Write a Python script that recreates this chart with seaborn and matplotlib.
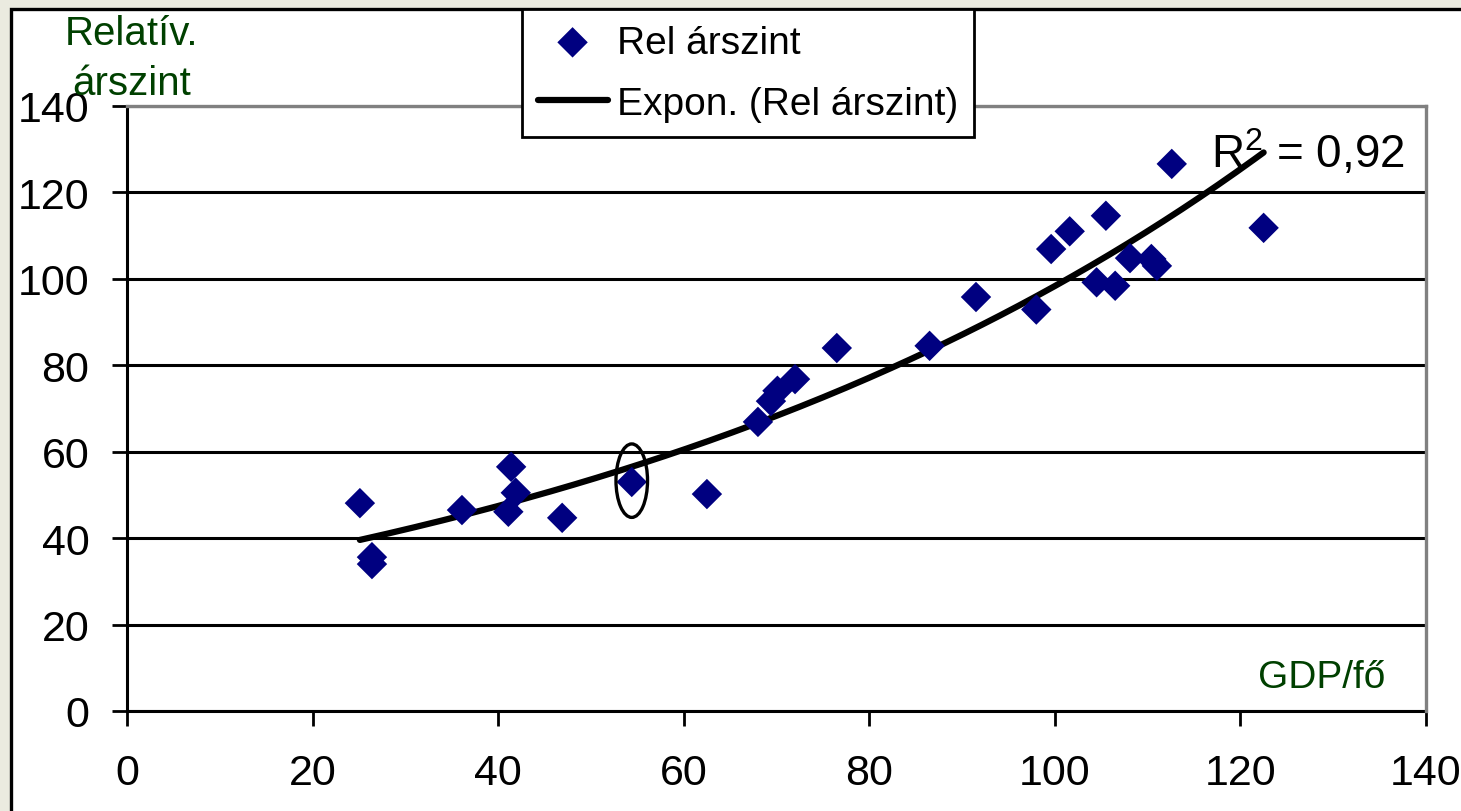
import matplotlib
matplotlib.use('Agg')
import matplotlib.pyplot as plt
from matplotlib.patches import Ellipse, Rectangle
import numpy as np
import pandas as pd
import seaborn as sns

# GDP/fő vs. relatív árszint
gdp_per_capita = [25.1, 26.4, 26.4, 36.1, 41.4, 41.1, 41.9, 46.9, 54.4, 62.5,
                  68.0, 69.4, 70.1, 72.0, 76.5, 86.5, 91.5, 98.0, 99.6, 101.6,
                  104.5, 105.5, 106.5, 108.1, 110.4, 111.0, 112.6, 122.5]
rel_price_level = [48.1, 35.6, 34.0, 46.5, 56.5, 46.1, 50.5, 44.7, 53.0, 50.2,
                   66.9, 71.7, 74.1, 76.8, 84.0, 84.5, 95.8, 92.9, 106.9, 111.0,
                   99.2, 114.6, 98.4, 104.8, 104.6, 103.0, 126.6, 111.8]
highlight_index = 8
ticks = [0, 20, 40, 60, 80, 100, 120, 140]
r_squared_text = r'R$^{2}$ = 0,92'
point_label = 'Rel árszint'
trend_label = 'Expon. (Rel árszint)'

df = pd.DataFrame({'gdp': gdp_per_capita, 'rel': rel_price_level})

# exponential trend fitted on the data (like Excel's Expon. trendline)
b, log_a = np.polyfit(df['gdp'], np.log(df['rel']), 1)
trend = pd.DataFrame({'gdp': np.linspace(df['gdp'].min(), df['gdp'].max(), 200)})
trend['rel'] = np.exp(log_a + b * trend['gdp'])

sns.set_style('white')
plt.rcParams['font.family'] = ['Liberation Sans', 'DejaVu Sans']
plt.rcParams['text.color'] = 'black'
plt.rcParams['mathtext.fontset'] = 'custom'
plt.rcParams['mathtext.rm'] = 'Liberation Sans'
plt.rcParams['mathtext.it'] = 'Liberation Sans'

fig = plt.figure(figsize=(14.61, 8.12), dpi=100, facecolor='#ebebe0')
W, H = 1461, 812
ax = fig.add_axes([127 / W, 100 / H, 1299 / W, 605 / H])
ax.set_facecolor('white')

# white chart box with black frame
fig.patches.append(Rectangle((11 / W, -0.1), 1.2, (H - 10) / H + 0.1,
                             transform=fig.transFigure, facecolor='white',
                             edgecolor='black', lw=2.4, zorder=-1))

sns.lineplot(data=trend, x='gdp', y='rel', color='black', lw=4.5,
             label=trend_label, ax=ax, zorder=3)
sns.scatterplot(data=df, x='gdp', y='rel', marker='D', s=240, color='#000080',
                edgecolor='none', label=point_label, ax=ax, zorder=4)

hx, hy = gdp_per_capita[highlight_index], rel_price_level[highlight_index]
ax.add_patch(Ellipse((hx, hy + 0.3), width=3.4, height=17, fill=False,
                     edgecolor='black', lw=2.4, zorder=5))

ax.set_xlim(0, 140)
ax.set_ylim(0, 140)
ax.set_xticks(ticks)
ax.set_yticks(ticks)
ax.set_xlabel('')
ax.set_ylabel('')
ax.yaxis.grid(True, color='black', lw=2.2)
ax.xaxis.grid(False)
ax.set_axisbelow(True)

for side in ['left', 'bottom']:
    ax.spines[side].set_color('black')
    ax.spines[side].set_linewidth(2.2)
for side in ['top', 'right']:
    ax.spines[side].set_color('#808080')
    ax.spines[side].set_linewidth(2.4)
    ax.spines[side].set_zorder(2.6)

ax.tick_params(axis='y', direction='out', length=11, width=2, pad=16,
               labelsize=31, colors='black', left=True)
ax.tick_params(axis='x', direction='out', length=11, width=2, pad=19,
               labelsize=31, colors='black', bottom=True)

# axis captions
fig.text(132 / W, 1 - 15 / H, 'Relatív.\nárszint', ha='center', va='top',
         color='#004000', fontsize=29, linespacing=1.4)
ax.text(0.969, 0.04, 'GDP/fő', transform=ax.transAxes, ha='right',
        va='baseline', color='#004000', fontsize=28)
ax.text(0.984, 0.899, r_squared_text, transform=ax.transAxes, ha='right',
        va='baseline', color='black', fontsize=33, zorder=6)

# legend order: points first, then trend line
handles, labels = ax.get_legend_handles_labels()
order = [labels.index(point_label), labels.index(trend_label)]
leg = ax.legend([handles[i] for i in order], [labels[i] for i in order],
                loc='upper left', bbox_to_anchor=(522 / W, 1 - 10 / H),
                bbox_transform=fig.transFigure, frameon=True, fancybox=False,
                edgecolor='black', framealpha=1, fontsize=28, borderaxespad=0,
                borderpad=0.4, handlelength=1.8, handletextpad=0.25,
                labelspacing=0.65)
leg.get_frame().set_linewidth(2.0)
leg.set_zorder(10)

fig.savefig('out.png', dpi=100, facecolor=fig.get_facecolor())
